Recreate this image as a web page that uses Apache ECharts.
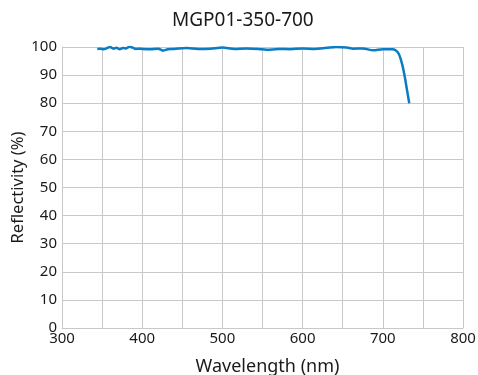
<!DOCTYPE html>
<html lang="en">
<head>
	<meta charset="UTF-8">
	<title>MGP01-350-700</title>
	<script src="https://cdn.jsdelivr.net/npm/echarts@6/dist/echarts.min.js"></script>
	<style>body{margin:0;background:#fff;}</style>
</head>
<body>
	<div id="main" style="width: 478px;height:375px;"></div>
	<script type="text/javascript">
	// wavelength (nm) and reflectivity (%)
	var wavelength = [344, 348, 352, 356, 360, 364, 368, 372, 376, 380, 384, 388, 392, 396, 400,
		410, 420, 426, 432, 440, 455, 470, 485, 500, 515, 530, 545, 555, 570, 585, 600,
		615, 630, 642, 655, 663, 675, 688, 700, 712, 716, 720, 724, 727, 730, 733];
	var reflectivity = [99.3, 99.4, 99.2, 99.6, 100, 99.4, 99.7, 99.2, 99.6, 99.5, 100.1, 99.8, 99.3, 99.4, 99.3,
		99.2, 99.4, 98.7, 99.2, 99.3, 99.6, 99.3, 99.4, 99.8, 99.3, 99.5, 99.3, 99.0, 99.3, 99.2, 99.5,
		99.3, 99.7, 100, 99.8, 99.4, 99.5, 98.8, 99.2, 99.2, 98.8, 97.5, 94, 90, 85, 80];
	var xTicks = [300, 400, 500, 600, 700, 800];

	var myChart = echarts.init(document.getElementById('main'));
	var points = wavelength.map(function (w, i) { return [w, reflectivity[i]]; });
	var font = 'Noto Sans';

	var option = {
		animation: false,
		title: {
			text: 'MGP01-350-700',
			left: 167,
			top: 6,
			textStyle: { fontFamily: font, fontWeight: 'normal', fontSize: 19, color: '#1a1a1a' }
		},
		grid: { left: 62, right: 15, top: 47, bottom: 47, outerBoundsMode: 'none' },
		xAxis: {
			type: 'value',
			min: 300, max: 800, interval: 50,
			name: 'Wavelength (nm)',
			nameLocation: 'middle',
			nameGap: 30,
			nameTextStyle: { fontFamily: font, fontSize: 18, color: '#1a1a1a', padding: [0, 0, 0, 10] },
			axisLine: { show: true, lineStyle: { color: '#c8c8c8' } },
			axisTick: { show: false },
			splitLine: { show: true, lineStyle: { color: '#c8c8c8', width: 1 } },
			axisLabel: {
				fontFamily: font, fontSize: 15, color: '#1a1a1a', margin: 3,
				formatter: function (v) { return xTicks.indexOf(v) >= 0 ? String(v) : ''; }
			}
		},
		yAxis: {
			type: 'value',
			min: 0, max: 100, interval: 10,
			name: 'Reflectivity (%)',
			nameLocation: 'middle',
			nameGap: 35,
			nameMoveOverlap: false,
			nameTextStyle: { fontFamily: font, fontSize: 16.5, color: '#1a1a1a' },
			axisLine: { show: true, lineStyle: { color: '#c8c8c8' } },
			axisTick: { show: false },
			splitLine: { show: true, lineStyle: { color: '#c8c8c8', width: 1 } },
			axisLabel: { fontFamily: font, fontSize: 15, color: '#1a1a1a', margin: 5 }
		},
		series: [{
			type: 'line',
			data: points,
			smooth: 0.3,
			showSymbol: false,
			lineStyle: { color: '#0a7cc4', width: 2.5 }
		}]
	};
	myChart.setOption(option);
	</script>
</body>
</html>
